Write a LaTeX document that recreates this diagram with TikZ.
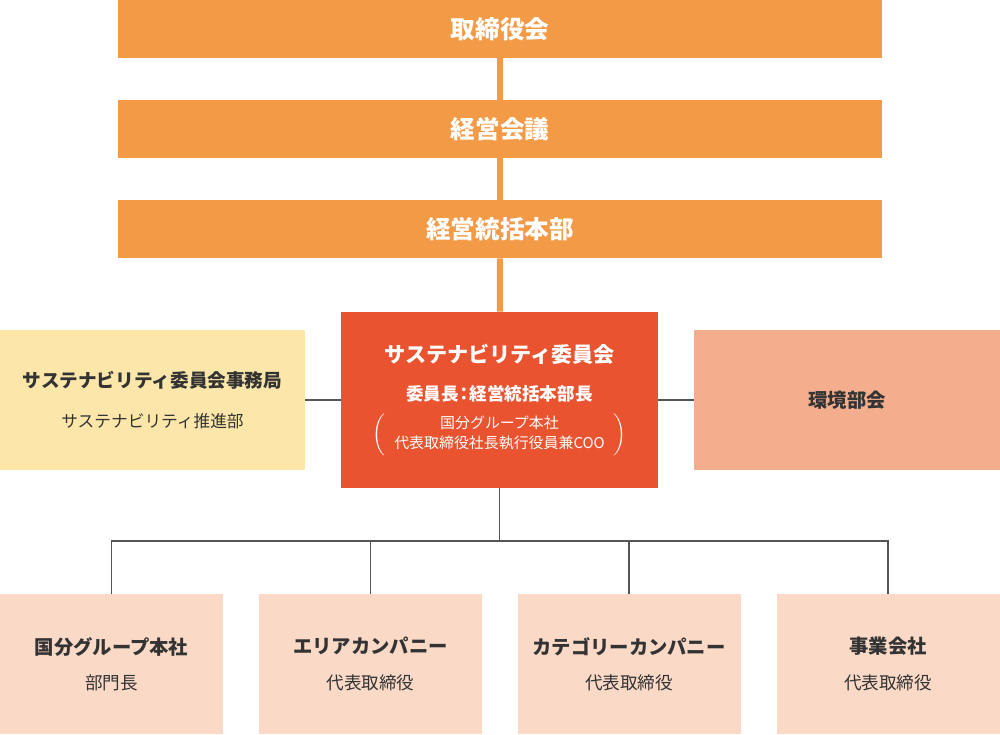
\documentclass[tikz,border=0pt]{standalone}
\usepackage{fontspec}
\newfontfamily\jp{Noto Sans CJK JP}
\usetikzlibrary{positioning,calc}
\definecolor{ob}{HTML}{F39A46}
\definecolor{rd}{HTML}{E9532F}
\definecolor{yl}{HTML}{FCE6A9}
\definecolor{sa}{HTML}{F4AE8E}
\definecolor{pk}{HTML}{FAD9C7}
\definecolor{tx}{HTML}{333333}
\definecolor{ln}{HTML}{555555}
\begin{document}
\begin{tikzpicture}[
  topblock/.style={rectangle,fill=ob,minimum width=15.28cm,minimum height=1.16cm,inner sep=0pt,text=white,font=\jp\bfseries\fontsize{14}{16}\selectfont},
  chairblock/.style={rectangle,fill=rd,minimum width=6.34cm,minimum height=3.52cm,inner sep=0pt,text=white,align=center,font=\jp\fontsize{10}{12}\selectfont},
  sideblock/.style={rectangle,minimum width=6.1cm,minimum height=2.8cm,inner sep=0pt,text=tx,align=center,font=\jp\fontsize{10}{12}\selectfont},
  unitblock/.style={rectangle,fill=pk,minimum width=4.46cm,minimum height=2.8cm,inner sep=0pt,text=tx,align=center,font=\jp\fontsize{10}{12}\selectfont},
  spine/.style={color=ob,line width=3.4pt},
  link/.style={color=ln,line width=0.85pt}]
\useasboundingbox (0,0) rectangle (20,-14.68);
% board and management chain
\node[topblock](board) at (10,-0.58){取締役会};
\node[topblock](mgmt) at (10,-2.58){経営会議};
\node[topblock](hq) at (10,-4.58){経営統括本部};
% committee row
\node[chairblock](comm) at (9.99,-8.0){{\bfseries\fontsize{12}{14}\selectfont サステナビリティ委員会}\\[9.5pt]
  {\bfseries 委員長\hspace{-2pt}：\hspace{-2pt}経営統括本部長}\\[5.5pt]
  $\left(\vcenter{\hbox{\fontsize{8.5}{11.5}\selectfont\begin{tabular}{@{\hspace{5pt}}c@{\hspace{5pt}}}国分グループ本社\\代表取締役社長執行役員兼COO\end{tabular}}}\right)$};
\node[sideblock,fill=yl](office) at (3.05,-8.0){{\bfseries\fontsize{10.6}{12}\selectfont サステナビリティ委員会事務局}\\[11pt]
  {\fontsize{9.5}{11}\selectfont サステナビリティ推進部}};
\node[sideblock,fill=sa,minimum width=6.12cm](env) at (16.94,-8.0){{\bfseries\fontsize{11}{13}\selectfont 環境部会}};
% business units
\node[unitblock](kokubu) at (2.23,-13.28){{\bfseries\fontsize{11}{13}\selectfont 国分グループ本社}\\[8pt]部門長};
\node[unitblock](area) at (7.41,-13.28){{\bfseries\fontsize{11}{13}\selectfont エリアカンパニー}\\[8pt]代表取締役};
\node[unitblock](categ) at (12.58,-13.28){{\bfseries\fontsize{11}{13}\selectfont カテゴリーカンパニー}\\[8pt]代表取締役};
\node[unitblock](jigyo) at (17.76,-13.28){{\bfseries\fontsize{11}{13}\selectfont 事業会社}\\[8pt]代表取締役};
\coordinate (bus) at (comm.south |- 0,-10.82);
\foreach \a/\b in {board/mgmt,mgmt/hq,hq/comm}
  \draw[spine](\a)--(\b);
\draw[link](office.east)--(office.east -| comm.west);
\draw[link](env.west)--(env.west -| comm.east);
\draw[link](comm.south)--(bus);
\foreach \b in {kokubu,area,categ,jigyo}
  \draw[link](bus)-|(\b.north);
\end{tikzpicture}
\end{document}
